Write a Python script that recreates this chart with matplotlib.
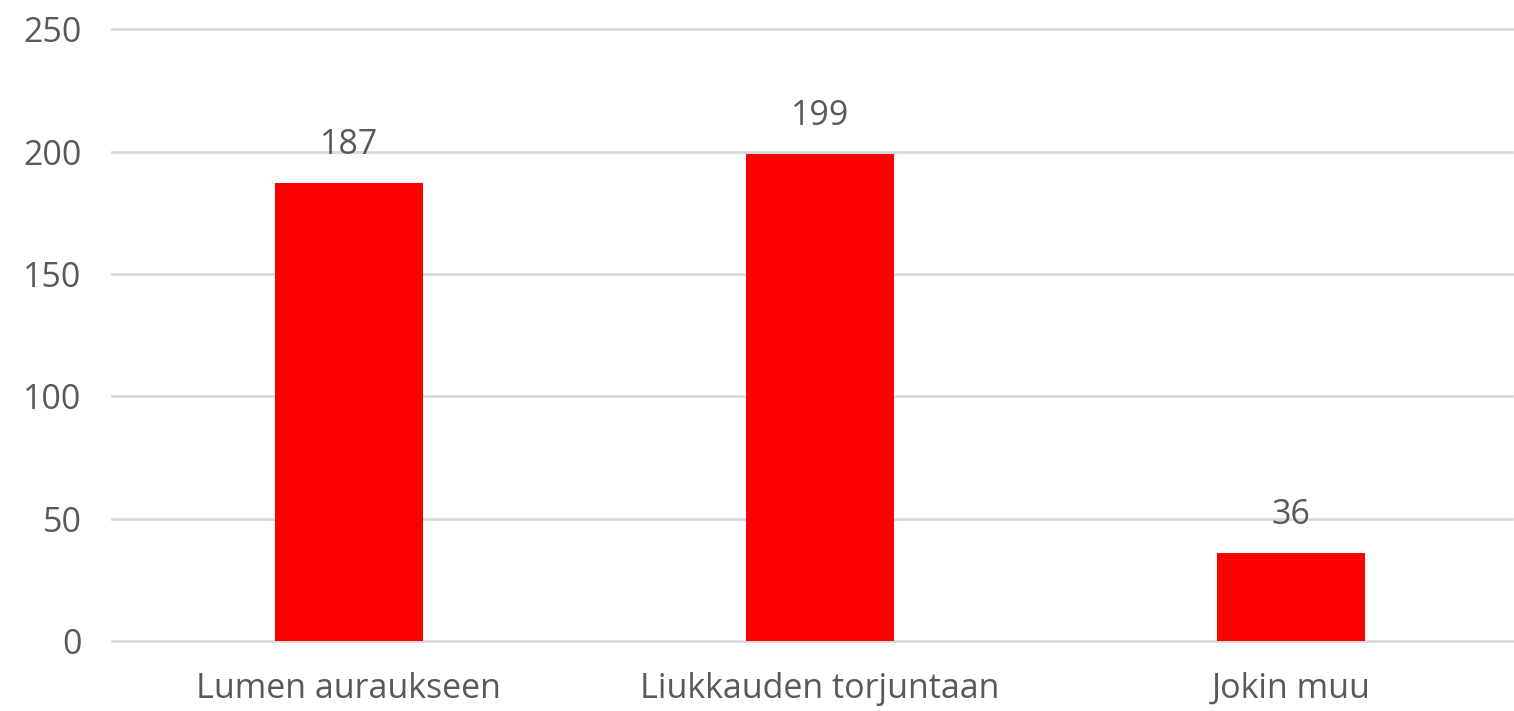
import matplotlib
matplotlib.use("Agg")
import matplotlib.pyplot as plt

CATEGORIES = ["Lumen auraukseen", "Liukkauden torjuntaan", "Jokin muu"]
VALUES = [187, 199, 36]
YTICKS = [0, 50, 100, 150, 200, 250]

TEXT = "#595959"
GRID = "#d9d9d9"
RED = "#ff0000"

plt.rcParams["font.family"] = ["Open Sans", "DejaVu Sans"]
FS = 24.5

fig = plt.figure(figsize=(15.14, 7.11), dpi=100)
ax = fig.add_axes([0.074, 0.0985, 0.9247, 0.8605])

x = list(range(len(CATEGORIES)))
ax.bar(x, VALUES, width=0.314, color=RED, zorder=3)
for xi, v in zip(x, VALUES):
    ax.annotate(str(v), (xi, v), xytext=(0, 15), textcoords="offset points",
                ha="center", va="bottom", fontsize=FS, color=TEXT)

ax.set_xlim(-0.503, 2.47)
ax.set_ylim(0, 250)
ax.set_yticks(YTICKS)
ax.set_xticks(x)
ax.set_xticklabels(CATEGORIES)
ax.grid(axis="y", color=GRID, linewidth=2, zorder=0)
for gl in ax.get_ygridlines():
    gl.set_clip_on(False)
ax.tick_params(axis="both", length=0, labelsize=FS, labelcolor=TEXT)
ax.tick_params(axis="y", pad=22)
ax.tick_params(axis="x", pad=22)
for s in ax.spines.values():
    s.set_visible(False)

fig.savefig("out.png", dpi=100)
